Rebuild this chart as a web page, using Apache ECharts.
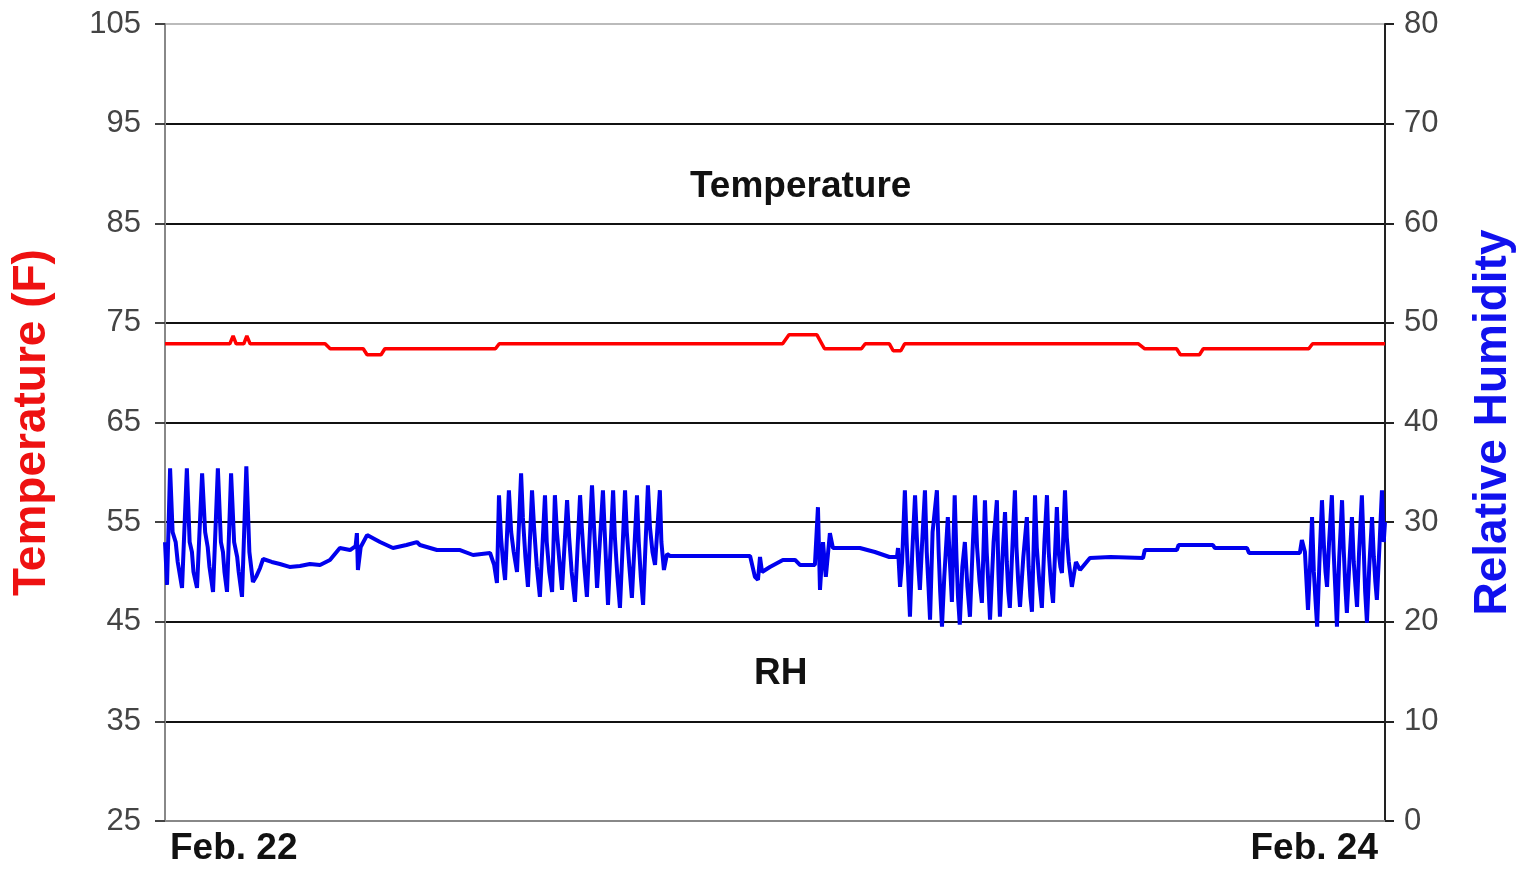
<!DOCTYPE html>
<html>
<head>
<meta charset="utf-8">
<script src="https://cdn.jsdelivr.net/npm/echarts@6/dist/echarts.min.js"></script>
<style>
html,body{margin:0;padding:0;background:#fff;}
#chart{width:1530px;height:869px;}
</style>
</head>
<body>
<div id="chart"></div>
<script>
// x values are hours after the start of Feb. 22 (0..48)
const xTickPositions = [0, 48];
const xTickLabels = ['Feb. 22', 'Feb. 24'];
const tempTicks = [25, 35, 45, 55, 65, 75, 85, 95, 105];
const rhTicks = [0, 10, 20, 30, 40, 50, 60, 70, 80];

// Temperature (F): [hour, value]
const temperature = [
  [0, 72.9], [2.55, 72.9], [2.68, 73.7], [2.8, 72.9], [3.1, 72.9], [3.22, 73.7], [3.35, 72.9],
  [6.3, 72.9], [6.5, 72.4], [7.8, 72.4], [7.95, 71.8], [8.5, 71.8], [8.65, 72.4],
  [13.0, 72.4], [13.15, 72.9], [24.3, 72.9], [24.55, 73.8], [25.65, 73.8], [25.95, 72.4],
  [27.4, 72.4], [27.55, 72.9], [28.5, 72.9], [28.65, 72.2], [28.95, 72.2], [29.1, 72.9],
  [38.3, 72.9], [38.55, 72.4], [39.8, 72.4], [39.95, 71.8], [40.7, 71.8], [40.85, 72.4],
  [45.0, 72.4], [45.15, 72.9], [48, 72.9]
];

// Relative humidity (%): [hour, value]
const humidity = [
  [0, 28], [0.08, 23.7], [0.2, 35.4], [0.26, 35.4], [0.3, 29], [0.42, 28], [0.5, 26], [0.67, 23.4],
  [0.86, 35.4], [0.92, 35.4], [0.97, 28], [1.06, 27], [1.12, 25], [1.26, 23.4], [1.46, 34.9], [1.52, 34.9], [1.58, 29],
  [1.68, 27.5], [1.75, 25.5], [1.89, 23.0], [2.08, 35.4], [2.14, 35.4], [2.2, 28], [2.28, 27], [2.34, 25], [2.44, 23.0],
  [2.6, 34.9], [2.66, 34.9], [2.72, 28], [2.84, 26.5], [2.9, 25], [3.03, 22.5], [3.2, 35.6], [3.26, 35.6], [3.32, 27],
  [3.46, 24.0], [3.6, 24.6], [3.74, 25.4], [3.86, 26.3], [4.2, 26.0], [4.52, 25.8], [4.9, 25.5],
  [5.31, 25.6], [5.7, 25.8], [6.1, 25.7], [6.49, 26.2], [6.88, 27.4], [7.28, 27.2],
  [7.5, 27.6], [7.55, 28.9], [7.59, 25.2], [7.7, 27.5], [7.95, 28.7], [8.46, 28.0],
  [8.97, 27.4], [9.5, 27.7], [9.91, 28.0], [10.03, 27.7], [10.7, 27.2], [11.61, 27.2],
  [12.12, 26.7], [12.79, 26.9],
  [12.95, 25.7], [13.06, 23.9], [13.14, 32.7], [13.22, 28.5], [13.3, 26.0], [13.38, 24.2],
  [13.53, 33.2], [13.62, 29.0], [13.72, 27.0], [13.85, 25.0], [14.01, 34.9], [14.08, 30.5],
  [14.18, 26.5], [14.28, 23.5], [14.44, 33.2], [14.52, 29.5], [14.63, 25.5], [14.75, 22.5],
  [14.95, 32.7], [15.02, 28.0], [15.12, 25.0], [15.23, 23.0], [15.34, 32.7], [15.42, 29.0],
  [15.52, 26.0], [15.62, 23.2], [15.82, 32.2], [15.9, 28.5], [16.0, 25.0], [16.13, 22.0],
  [16.33, 32.7], [16.4, 29.5], [16.5, 25.5], [16.6, 22.5], [16.8, 33.7], [16.87, 30.0],
  [16.94, 26.5], [17.0, 23.4], [17.23, 33.2], [17.3, 29.0], [17.37, 25.0], [17.43, 21.7],
  [17.63, 33.2], [17.7, 28.5], [17.8, 24.5], [17.9, 21.4], [18.1, 33.2], [18.17, 29.0],
  [18.27, 25.5], [18.37, 22.4], [18.57, 32.7], [18.64, 28.0], [18.72, 24.5], [18.81, 21.7],
  [19.0, 33.7], [19.08, 29.5], [19.18, 27.0], [19.28, 25.7], [19.47, 33.2], [19.53, 28.0],
  [19.63, 25.2], [19.75, 26.8], [19.87, 26.6],
  [23.02, 26.6], [23.21, 24.5], [23.33, 24.2], [23.41, 26.5], [23.49, 25.0], [23.8, 25.5],
  [24.31, 26.2], [24.79, 26.2], [24.98, 25.7], [25.57, 25.7], [25.69, 31.5], [25.77, 23.2],
  [25.89, 28.0], [26.0, 24.5], [26.16, 28.9], [26.28, 27.4], [27.34, 27.4], [27.93, 27.0],
  [28.5, 26.5], [28.8, 26.5], [28.84, 27.4],
  [28.92, 23.5], [29.0, 26.0], [29.11, 33.2], [29.18, 28.0], [29.25, 24.0], [29.31, 20.5],
  [29.4, 27.0], [29.51, 32.7], [29.58, 28.5], [29.64, 25.5], [29.7, 23.2], [29.78, 27.5],
  [29.9, 33.2], [29.97, 27.0], [30.04, 23.5], [30.1, 20.2], [30.2, 29.0], [30.37, 33.2],
  [30.44, 27.0], [30.5, 23.0], [30.57, 19.5], [30.66, 24.5], [30.8, 30.5], [30.88, 26.0],
  [30.96, 22.0], [31.07, 32.7], [31.14, 26.5], [31.2, 22.5], [31.27, 19.7], [31.37, 25.5],
  [31.47, 28.0], [31.57, 23.5], [31.67, 20.5], [31.77, 27.0], [31.87, 32.7], [31.95, 27.5],
  [32.05, 24.0], [32.14, 21.9], [32.26, 32.2], [32.33, 27.0], [32.4, 23.5], [32.46, 20.2],
  [32.6, 28.0], [32.73, 32.2], [32.79, 25.0], [32.85, 20.5], [32.95, 26.5], [33.05, 31.0],
  [33.12, 26.0], [33.18, 23.0], [33.24, 21.4], [33.34, 27.5], [33.44, 33.2], [33.5, 27.5],
  [33.57, 24.0], [33.64, 21.5], [33.77, 26.5], [33.91, 30.5], [33.98, 25.5], [34.05, 22.5],
  [34.11, 21.0], [34.23, 32.7], [34.3, 27.5], [34.4, 24.0], [34.5, 21.4], [34.6, 28.0],
  [34.7, 32.7], [34.77, 27.0], [34.85, 24.0], [34.94, 21.9], [35.09, 31.5], [35.16, 27.0],
  [35.23, 25.5], [35.29, 24.9], [35.41, 33.2], [35.48, 28.5], [35.56, 26.0], [35.68, 23.5],
  [35.84, 26.0], [36.0, 25.2], [36.39, 26.4],
  [37.2, 26.5], [38.48, 26.4], [38.55, 27.2], [39.81, 27.2], [39.88, 27.7], [41.23, 27.7], [41.31, 27.4],
  [42.57, 27.4], [42.65, 26.9], [44.65, 26.9], [44.73, 28.2], [44.85, 27.0],
  [44.97, 21.2], [45.05, 25.5], [45.13, 30.5], [45.2, 25.0], [45.27, 22.0], [45.33, 19.5],
  [45.42, 26.0], [45.52, 32.2], [45.6, 27.5], [45.66, 25.0], [45.72, 23.5], [45.8, 28.0],
  [45.91, 32.7], [45.98, 27.0], [46.05, 23.0], [46.11, 19.5], [46.2, 26.5], [46.31, 32.2],
  [46.38, 27.0], [46.44, 23.5], [46.5, 20.9], [46.6, 26.0], [46.7, 30.5], [46.77, 26.0],
  [46.84, 23.5], [46.9, 21.5], [46.98, 27.0], [47.09, 32.7], [47.16, 27.5], [47.22, 23.0],
  [47.29, 19.9], [47.38, 25.5], [47.49, 30.5], [47.56, 26.5], [47.62, 24.0], [47.68, 22.2],
  [47.78, 27.5], [47.88, 33.2], [47.95, 28.0], [48.0, 30.0]
];

const FONT = '"Liberation Sans", Arial, sans-serif';
const chart = echarts.init(document.getElementById('chart'));

const splitColors = tempTicks.map((t, i) => i === 0 ? '#999' : (i === tempTicks.length - 1 ? '#bbb' : '#111'));

chart.setOption({
  backgroundColor: '#fff',
  animation: false,
  textStyle: { fontFamily: FONT },
  grid: { left: 165, right: 145, top: 24, bottom: 48, containLabel: false },
  xAxis: {
    type: 'value',
    min: xTickPositions[0],
    max: xTickPositions[xTickPositions.length - 1],
    interval: xTickPositions[1] - xTickPositions[0],
    axisLine: { show: true, lineStyle: { color: '#888', width: 2 } },
    axisTick: { show: false },
    splitLine: { show: false },
    axisLabel: {
      show: true,
      margin: 9,
      fontSize: 37,
      fontWeight: 'bold',
      color: '#111',
      fontFamily: FONT,
      padding: [0, 7, 0, 5],
      alignMinLabel: 'left',
      alignMaxLabel: 'right',
      formatter: function (v) {
        const i = xTickPositions.indexOf(v);
        return i >= 0 ? xTickLabels[i] : '';
      }
    }
  },
  yAxis: [
    {
      type: 'value',
      min: tempTicks[0],
      max: tempTicks[tempTicks.length - 1],
      interval: 10,
      position: 'left',
      name: 'Temperature (F)',
      nameLocation: 'middle',
      nameRotate: 90,
      nameGap: 110,
      nameTextStyle: { color: '#ee1111', fontSize: 46, fontWeight: 'bold', fontFamily: FONT },
      axisLine: { show: true, lineStyle: { color: '#888', width: 2 } },
      axisTick: { show: true, inside: false, length: 10, lineStyle: { color: '#444', width: 2 } },
      axisLabel: { fontSize: 31, color: '#444', margin: 24, fontFamily: FONT },
      splitLine: { show: true, lineStyle: { color: splitColors, width: 2 } }
    },
    {
      type: 'value',
      min: rhTicks[0],
      max: rhTicks[rhTicks.length - 1],
      interval: 10,
      position: 'right',
      name: 'Relative Humidity',
      nameLocation: 'middle',
      nameRotate: 90,
      nameGap: 85,
      nameTextStyle: { color: '#1111ee', fontSize: 46, fontWeight: 'bold', fontFamily: FONT },
      axisLine: { show: true, lineStyle: { color: '#222', width: 2 } },
      axisTick: { show: true, inside: false, length: 9, lineStyle: { color: '#222', width: 2 } },
      axisLabel: { fontSize: 31, color: '#444', margin: 19, fontFamily: FONT },
      splitLine: { show: false }
    }
  ],
  graphic: [
    { type: 'text', left: 690, top: 168, style: { text: 'Temperature', font: 'bold 37px ' + FONT, fill: '#111' } },
    { type: 'text', left: 754, top: 655, style: { text: 'RH', font: 'bold 37px ' + FONT, fill: '#111' } }
  ],
  series: [
    {
      name: 'Temperature',
      type: 'line',
      yAxisIndex: 0,
      data: temperature,
      showSymbol: false,
      lineStyle: { color: '#ff0000', width: 3.5 },
      z: 3
    },
    {
      name: 'RH',
      type: 'line',
      yAxisIndex: 1,
      data: humidity,
      showSymbol: false,
      lineStyle: { color: '#0000ee', width: 4 },
      z: 4
    }
  ]
});
</script>
</body>
</html>
